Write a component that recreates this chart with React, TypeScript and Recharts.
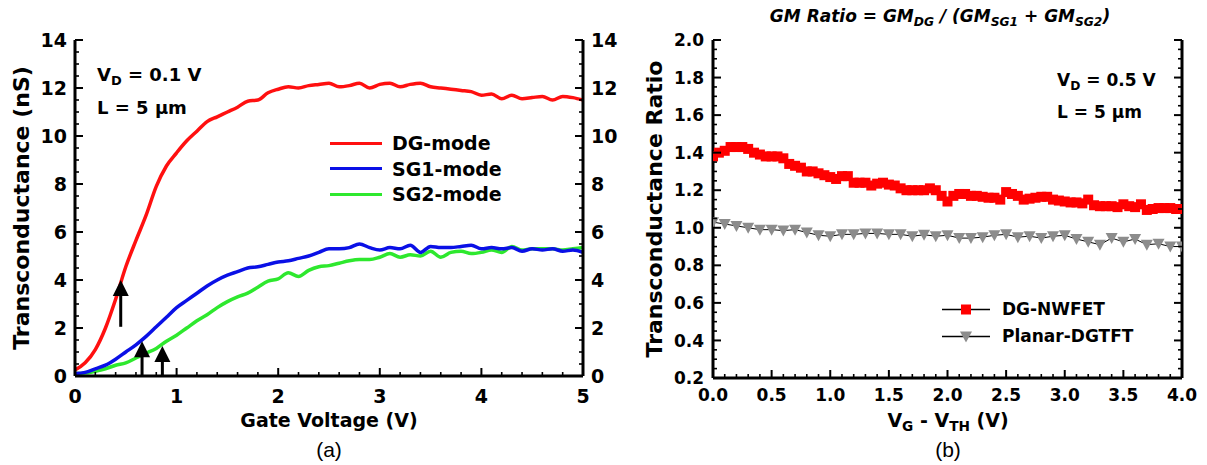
import React from "react";
import { LineChart, Line, XAxis, YAxis, ReferenceLine, ReferenceDot } from "recharts";

// ---- panel (a): transconductance vs gate voltage ----
const gateVoltage = [
  0, 0.1, 0.2, 0.3, 0.4, 0.5, 0.6, 0.7, 0.8, 0.9,
  1.0, 1.1, 1.2, 1.3, 1.4, 1.5, 1.6, 1.7, 1.8, 1.9,
  2.0, 2.1, 2.2, 2.3, 2.4, 2.5, 2.6, 2.7, 2.8, 2.9,
  3.0, 3.1, 3.2, 3.3, 3.4, 3.5, 3.6, 3.7, 3.8, 3.9,
  4.0, 4.1, 4.2, 4.3, 4.4, 4.5, 4.6, 4.7, 4.8, 4.9,
  5.0,
];
const dgMode = [
  0.25, 0.55, 1.1, 2.0, 3.2, 4.55, 5.65, 6.7, 7.9, 8.75,
  9.3, 9.8, 10.2, 10.6, 10.8, 11.0, 11.2, 11.45, 11.5, 11.8,
  11.95, 12.05, 12.0, 12.1, 12.15, 12.2, 12.05, 12.1, 12.2, 12.0,
  12.15, 12.2, 12.05, 12.15, 12.2, 12.05, 12.0, 11.95, 11.9, 11.85,
  11.7, 11.75, 11.55, 11.7, 11.55, 11.6, 11.65, 11.5, 11.65, 11.6,
  11.5,
];
const sg1Mode = [
  0.1, 0.15, 0.3, 0.45, 0.7, 1.0, 1.3, 1.65, 2.05, 2.45,
  2.85, 3.15, 3.45, 3.75, 4.0, 4.2, 4.35, 4.5, 4.55, 4.65,
  4.75, 4.8, 4.9, 5.0, 5.15, 5.3, 5.3, 5.35, 5.5, 5.35,
  5.25, 5.35, 5.3, 5.45, 5.15, 5.4, 5.35, 5.35, 5.4, 5.45,
  5.3, 5.35, 5.3, 5.35, 5.2, 5.3, 5.25, 5.3, 5.2, 5.25,
  5.15,
];
const sg2Mode = [
  0.1, 0.12, 0.2, 0.3, 0.45, 0.55, 0.75, 0.95, 1.15, 1.45,
  1.7, 2.0, 2.3, 2.55, 2.85, 3.1, 3.3, 3.45, 3.7, 3.95,
  4.05, 4.3, 4.15, 4.4, 4.55, 4.6, 4.7, 4.8, 4.85, 4.85,
  4.95, 5.1, 4.95, 5.05, 5.0, 5.2, 4.95, 5.15, 5.2, 5.1,
  5.15, 5.25, 5.15, 5.4, 5.25, 5.3, 5.3, 5.3, 5.25, 5.3,
  5.35,
];
const arrowVoltage = [0.45, 0.66, 0.86];
const arrowBase = [2.05, 0, 0];
const arrowTip = [4.0, 1.45, 1.25];
const gateTicks = [0, 1, 2, 3, 4, 5];
const gmTicks = [0, 2, 4, 6, 8, 10, 12, 14];

// ---- panel (b): GM ratio vs overdrive ----
const vovNwfet = [
  0, 0.05, 0.1, 0.15, 0.2, 0.25, 0.3, 0.35, 0.4, 0.45,
  0.5, 0.55, 0.6, 0.65, 0.7, 0.75, 0.8, 0.85, 0.9, 0.95,
  1.0, 1.05, 1.1, 1.15, 1.2, 1.25, 1.3, 1.35, 1.4, 1.45,
  1.5, 1.55, 1.6, 1.65, 1.7, 1.75, 1.8, 1.85, 1.9, 1.95,
  2.0, 2.05, 2.1, 2.15, 2.2, 2.25, 2.3, 2.35, 2.4, 2.45,
  2.5, 2.55, 2.6, 2.65, 2.7, 2.75, 2.8, 2.85, 2.9, 2.95,
  3.0, 3.05, 3.1, 3.15, 3.2, 3.25, 3.3, 3.35, 3.4, 3.45,
  3.5, 3.55, 3.6, 3.65, 3.7, 3.75, 3.8, 3.85, 3.9, 3.95,
  4.0,
];
const ratioNwfet = [
  1.38, 1.4, 1.41, 1.43, 1.43, 1.43, 1.42, 1.4, 1.39, 1.38,
  1.38, 1.38, 1.37, 1.34, 1.33, 1.32, 1.3, 1.3, 1.29, 1.28,
  1.27, 1.26, 1.275, 1.275, 1.24, 1.24, 1.24, 1.225, 1.235, 1.24,
  1.23, 1.225, 1.21, 1.2, 1.2, 1.2, 1.2, 1.21, 1.2, 1.17,
  1.14, 1.17, 1.18, 1.18, 1.17, 1.17, 1.165, 1.16, 1.16, 1.15,
  1.19, 1.18, 1.17, 1.15, 1.155, 1.16, 1.165, 1.165, 1.15, 1.145,
  1.14, 1.135, 1.135, 1.13, 1.15, 1.12, 1.115, 1.115, 1.115, 1.11,
  1.125, 1.115, 1.11, 1.125, 1.095, 1.1, 1.105, 1.105, 1.105, 1.1,
  1.1,
];
const vovPlanar = [
  0, 0.1, 0.2, 0.3, 0.4, 0.5, 0.6, 0.7, 0.8, 0.9,
  1.0, 1.1, 1.2, 1.3, 1.4, 1.5, 1.6, 1.7, 1.8, 1.9,
  2.0, 2.1, 2.2, 2.3, 2.4, 2.5, 2.6, 2.7, 2.8, 2.9,
  3.0, 3.1, 3.2, 3.3, 3.4, 3.5, 3.6, 3.7, 3.8, 3.9,
  4.0,
];
const ratioPlanar = [
  1.03, 1.02, 1.01, 1.0, 0.99, 0.99, 0.985, 0.99, 0.975, 0.96,
  0.955, 0.965, 0.965, 0.97, 0.97, 0.965, 0.965, 0.955, 0.963, 0.955,
  0.96, 0.945, 0.945, 0.95, 0.96, 0.965, 0.95, 0.955, 0.945, 0.955,
  0.96, 0.94, 0.925, 0.91, 0.945, 0.925, 0.94, 0.91, 0.915, 0.9,
  0.9,
];
const vovTicks = [0, 0.5, 1.0, 1.5, 2.0, 2.5, 3.0, 3.5, 4.0];
const ratioTicks = [0.2, 0.4, 0.6, 0.8, 1.0, 1.2, 1.4, 1.6, 1.8, 2.0];

const FONT = "'DejaVu Sans', 'Liberation Sans', Arial, sans-serif";
const RED = "#ff1010";
const BLUE = "#0a10e6";
const GREEN = "#2ee82e";
const GRAY = "#8c8c8c";

// minor tick positions (axis styling only)
function steps(lo: number, hi: number, step: number) {
  const out: number[] = [];
  const n = Math.round((hi - lo) / step);
  for (let i = 0; i <= n; i++) out.push(Math.round((lo + i * step) * 1000) / 1000);
  return out;
}

type Side = "bottom" | "top" | "left" | "right";

function makeTick(side: Side, majors: number[], label = false, digits = 0, gap = 8, fontSize = 17) {
  return (p: any) => {
    const v = Number(p.payload.value);
    const big = majors.some((m) => Math.abs(m - v) < 1e-6);
    const len = big ? 8 : 4;
    const { x, y } = p;
    let x2 = x;
    let y2 = y;
    if (side === "bottom") y2 = y - len;
    if (side === "top") y2 = y + len;
    if (side === "left") x2 = x + len;
    if (side === "right") x2 = x - len;
    const s = v.toFixed(digits);
    const ts = { fontFamily: FONT, fontWeight: 700, fontSize, fill: "#000" };
    return (
      <g>
        <line x1={x} y1={y} x2={x2} y2={y2} stroke="#000" strokeWidth={big ? 2 : 1.6} />
        {label && big && side === "bottom" && (
          <text x={x} y={y + gap} dy="0.73em" textAnchor="middle" style={ts}>{s}</text>
        )}
        {label && big && side === "left" && (
          <text x={x - gap} y={y} dy="0.36em" textAnchor="end" style={ts}>{s}</text>
        )}
        {label && big && side === "right" && (
          <text x={x + gap} y={y} dy="0.36em" textAnchor="start" style={ts}>{s}</text>
        )}
      </g>
    );
  };
}

const axisBase = {
  type: "number" as const,
  allowDataOverflow: true,
  interval: 0 as const,
  tickSize: 0,
  tickMargin: 0,
  tickLine: false,
  axisLine: { stroke: "#000", strokeWidth: 3 },
};

function Txt(props: any) {
  const { x, y, anchor = "start", size = 18, bold = true, italic = false, rotate = false, family = FONT, children } = props;
  const tx = anchor === "start" ? "0" : anchor === "middle" ? "-50%" : "-100%";
  return (
    <div
      style={{
        position: "absolute",
        left: x,
        top: y,
        transform: rotate ? "translate(-50%, -50%) rotate(-90deg)" : `translate(${tx}, -50%)`,
        fontFamily: family,
        fontSize: size,
        fontWeight: bold ? 700 : 400,
        fontStyle: italic ? "italic" : "normal",
        lineHeight: 1,
        whiteSpace: "nowrap",
        color: "#000",
      }}
    >
      {children}
    </div>
  );
}

const Sub = ({ children }: any) => (
  <span style={{ fontSize: "0.72em", position: "relative", top: "0.32em" }}>{children}</span>
);

const ArrowHead = (p: any) => (
  <polygon points={`${p.cx},${p.cy} ${p.cx - 8},${p.cy + 16} ${p.cx + 8},${p.cy + 16}`} fill="#000" />
);

const squareDot = (p: any) => (
  <rect key={`sq-${p.index}`} x={p.cx - 5} y={p.cy - 5} width={10} height={10} fill="#ff0000" />
);
const triangleDot = (p: any) => (
  <polygon
    key={`tr-${p.index}`}
    points={`${p.cx - 6},${p.cy - 5} ${p.cx + 6},${p.cy - 5} ${p.cx},${p.cy + 6}`}
    fill={GRAY}
  />
);

const gmRows = gateVoltage.map((v, i) => ({ v, dg: dgMode[i], sg1: sg1Mode[i], sg2: sg2Mode[i] }));
const nwfetRows = vovNwfet.map((v, i) => ({ v, r: ratioNwfet[i] }));
const planarRows = vovPlanar.map((v, i) => ({ v, r: ratioPlanar[i] }));

const legendA = [
  { name: "DG-mode", color: RED },
  { name: "SG1-mode", color: BLUE },
  { name: "SG2-mode", color: GREEN },
];
const legendB = [
  { name: "DG-NWFET", marker: "square" },
  { name: "Planar-DGTFT", marker: "triangle" },
];

function PanelA() {
  const minorX = steps(0, 5, 0.2);
  const minorY = steps(0, 14, 0.5);
  return (
    <LineChart width={620} height={465} data={gmRows} margin={{ top: 40, right: 0, bottom: 0, left: 0 }}>
      <XAxis {...axisBase} dataKey="v" domain={[0, 5]} ticks={minorX} height={89}
        tick={makeTick("bottom", gateTicks, true, 0, 13, 19)} />
      <XAxis {...axisBase} xAxisId="top" orientation="top" domain={[0, 5]} ticks={minorX} height={0}
        tick={makeTick("top", gateTicks)} />
      <YAxis {...axisBase} domain={[0, 14]} ticks={minorY} width={75}
        tick={makeTick("left", gmTicks, true, 0, 8, 19)} />
      <YAxis {...axisBase} yAxisId="right" orientation="right" domain={[0, 14]} ticks={minorY} width={37}
        tick={makeTick("right", gmTicks, true, 0, 8, 19)} />
      <Line type="monotone" dataKey="sg2" stroke={GREEN} strokeWidth={3.5} dot={false} isAnimationActive={false} />
      <Line type="monotone" dataKey="sg1" stroke={BLUE} strokeWidth={3.5} dot={false} isAnimationActive={false} />
      <Line type="monotone" dataKey="dg" stroke={RED} strokeWidth={3.5} dot={false} isAnimationActive={false} />
      {arrowVoltage.map((x, i) => (
        <ReferenceLine key={`s${i}`} segment={[{ x, y: arrowBase[i] }, { x, y: arrowTip[i] - 0.3 }]}
          stroke="#000" strokeWidth={3} />
      ))}
      {arrowVoltage.map((x, i) => (
        <ReferenceDot key={`h${i}`} x={x} y={arrowTip[i]} r={0} shape={ArrowHead} />
      ))}
    </LineChart>
  );
}

function PanelB() {
  const minorX = steps(0, 4, 0.1);
  const minorY = steps(0.2, 2.0, 0.05);
  return (
    <LineChart width={607} height={465} margin={{ top: 40, right: 20, bottom: 0, left: 0 }}>
      <XAxis {...axisBase} dataKey="v" domain={[0, 4]} ticks={minorX} height={87}
        tick={makeTick("bottom", vovTicks, true, 1, 11, 17)} />
      <XAxis {...axisBase} xAxisId="top" orientation="top" domain={[0, 4]} ticks={minorX} height={0}
        tick={makeTick("top", vovTicks)} />
      <YAxis {...axisBase} domain={[0.2, 2.0]} ticks={minorY} width={113}
        tick={makeTick("left", ratioTicks, true, 1, 9, 17)} />
      <YAxis {...axisBase} yAxisId="right" orientation="right" domain={[0.2, 2.0]} ticks={minorY} width={5}
        tick={makeTick("right", ratioTicks)} />
      <Line data={planarRows} dataKey="r" stroke="#000" strokeWidth={1} dot={triangleDot} isAnimationActive={false} />
      <Line data={nwfetRows} dataKey="r" stroke="#000" strokeWidth={1} dot={squareDot} isAnimationActive={false} />
    </LineChart>
  );
}

export default function App() {
  return (
    <div style={{ position: "absolute", left: 0, top: 0, width: 1207, height: 465, background: "#fff", overflow: "hidden" }}>
      <div style={{ position: "absolute", left: 0, top: 0 }}>
        <PanelA />
      </div>
      <div style={{ position: "absolute", left: 600, top: 0 }}>
        <PanelB />
      </div>

      {/* panel (a) texts */}
      <Txt x={22} y={208} rotate size={22}>Transconductance (nS)</Txt>
      <Txt x={329} y={420} anchor="middle" size={19}>Gate Voltage (V)</Txt>
      <Txt x={329} y={449} anchor="middle" size={21} bold={false} family="'Liberation Sans', Arial, sans-serif">(a)</Txt>
      <Txt x={97} y={75} size={18}>V<Sub>D</Sub> = 0.1 V</Txt>
      <Txt x={97} y={108} size={18}>L = 5 μm</Txt>
      {legendA.map((d, i) => (
        <div key={d.name} style={{ position: "absolute", left: 330, top: 143 + i * 25.5, transform: "translateY(-50%)", display: "flex", alignItems: "center" }}>
          <svg width={52} height={6}><line x1={0} y1={3} x2={52} y2={3} stroke={d.color} strokeWidth={3} /></svg>
          <span style={{ marginLeft: 10, fontFamily: FONT, fontWeight: 700, fontSize: 19, lineHeight: 1 }}>{d.name}</span>
        </div>
      ))}

      {/* panel (b) texts */}
      <Txt x={940} y={16} anchor="middle" size={17} italic>
        GM Ratio = GM<Sub>DG</Sub> / (GM<Sub>SG1</Sub> + GM<Sub>SG2</Sub>)
      </Txt>
      <Txt x={655} y={209} rotate size={22}>Transconductance Ratio</Txt>
      <Txt x={948} y={420} anchor="middle" size={19}>V<Sub>G</Sub> - V<Sub>TH</Sub> (V)</Txt>
      <Txt x={948} y={449} anchor="middle" size={21} bold={false} family="'Liberation Sans', Arial, sans-serif">(b)</Txt>
      <Txt x={1057} y={80} size={17}>V<Sub>D</Sub> = 0.5 V</Txt>
      <Txt x={1057} y={112} size={17}>L = 5 μm</Txt>
      {legendB.map((d, i) => (
        <div key={d.name} style={{ position: "absolute", left: 942, top: 309 + i * 27, transform: "translateY(-50%)", display: "flex", alignItems: "center" }}>
          <svg width={48} height={12}>
            <line x1={0} y1={6} x2={48} y2={6} stroke="#000" strokeWidth={1.5} />
            {d.marker === "square"
              ? <rect x={19} y={1} width={10} height={10} fill="#ff0000" />
              : <polygon points="18,1 30,1 24,12" fill={GRAY} />}
          </svg>
          <span style={{ marginLeft: 12, fontFamily: FONT, fontWeight: 700, fontSize: 17, lineHeight: 1 }}>{d.name}</span>
        </div>
      ))}
    </div>
  );
}
